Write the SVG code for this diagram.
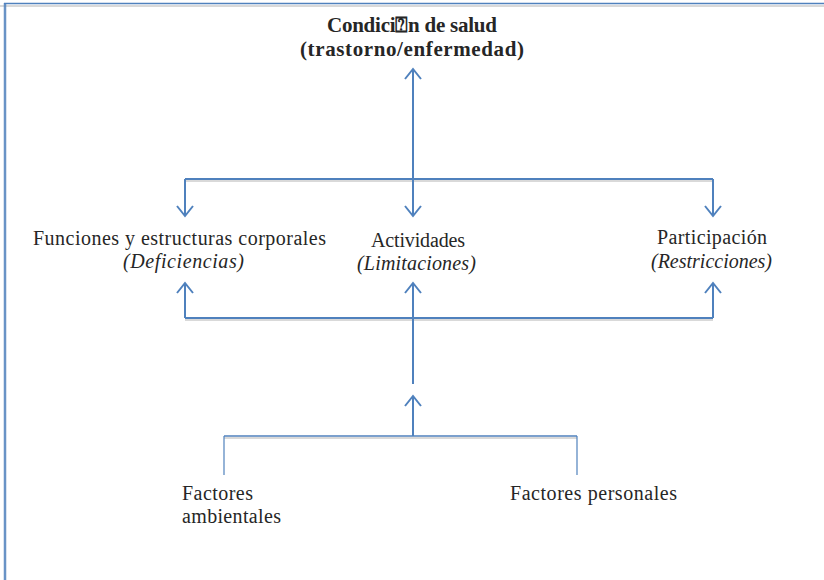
<svg xmlns="http://www.w3.org/2000/svg" width="824" height="580" viewBox="0 0 824 580">
<style>
.t{font-family:"Liberation Serif","DejaVu Serif",serif;font-size:20px;fill:#262626}
.b{font-weight:bold;font-size:21px}
.i{font-style:italic}
.ln{stroke:#4f81bd;stroke-width:2;fill:none}
.sh{stroke:#d9d9d9;stroke-width:2;fill:none}
</style>
<defs>
<marker id="arr" viewBox="0 0 20 20" refX="18" refY="10" markerWidth="20" markerHeight="20" markerUnits="userSpaceOnUse" orient="auto-start-reverse">
<path d="M8,2 L18,10 L8,18" stroke="#4f81bd" stroke-width="2" fill="none"/>
</marker>
</defs>
<rect width="824" height="580" fill="#fff"/>
<g id="frame">
<line x1="0" y1="6" x2="824" y2="6" class="sh"/>
<line x1="4" y1="3.5" x2="824" y2="3.5" stroke="#4f81bd" stroke-width="1.5"/>
<line x1="5" y1="3" x2="5" y2="580" stroke="#4f81bd" stroke-width="2.5" opacity="0.85"/>
</g>
<g id="connectors">
<line x1="185" y1="181" x2="713" y2="181" class="sh"/>
<line x1="185" y1="179" x2="713" y2="179" class="ln"/>
<line x1="185" y1="320" x2="713" y2="320" class="sh"/>
<line x1="185" y1="318" x2="713" y2="318" class="ln"/>
<line x1="224" y1="438" x2="577" y2="438" class="sh"/>
<line x1="224" y1="436" x2="577" y2="436" stroke="#4f81bd" stroke-width="1.5"/>
<line x1="413" y1="216" x2="413" y2="69" class="ln" marker-start="url(#arr)" marker-end="url(#arr)"/>
<line x1="185" y1="179" x2="185" y2="216" class="ln" marker-end="url(#arr)"/>
<line x1="713" y1="179" x2="713" y2="216" class="ln" marker-end="url(#arr)"/>
<line x1="185" y1="318" x2="185" y2="283" class="ln" marker-end="url(#arr)"/>
<line x1="713" y1="318" x2="713" y2="283" class="ln" marker-end="url(#arr)"/>
<line x1="413" y1="384" x2="413" y2="283" class="ln" marker-end="url(#arr)"/>
<line x1="413" y1="436" x2="413" y2="396" class="ln" marker-end="url(#arr)"/>
<line x1="224" y1="436" x2="224" y2="475" stroke="#4f81bd" stroke-width="1.2"/>
<line x1="577" y1="436" x2="577" y2="475" stroke="#4f81bd" stroke-width="1.2"/>
</g>
<g id="condicion">
<text class="t b" x="412" y="32" text-anchor="middle" textLength="170">Condici⍰n de salud</text>
<text class="t b" x="412" y="56" text-anchor="middle" textLength="224">(trastorno/enfermedad)</text>
</g>
<g id="funciones">
<text class="t" x="33" y="245" textLength="293">Funciones y estructuras corporales</text>
<text class="t i" x="123" y="268" textLength="121">(Deficiencias)</text>
</g>
<g id="actividades">
<text class="t" x="371" y="247" textLength="94">Actividades</text>
<text class="t i" x="357" y="270" textLength="119">(Limitaciones)</text>
</g>
<g id="participacion">
<text class="t" x="657" y="244" textLength="110">Participación</text>
<text class="t i" x="651" y="268" textLength="121">(Restricciones)</text>
</g>
<g id="ambientales">
<text class="t" x="182" y="500" textLength="71">Factores</text>
<text class="t" x="182" y="523" textLength="99">ambientales</text>
</g>
<g id="personales">
<text class="t" x="510" y="500" textLength="167">Factores personales</text>
</g>
</svg>
